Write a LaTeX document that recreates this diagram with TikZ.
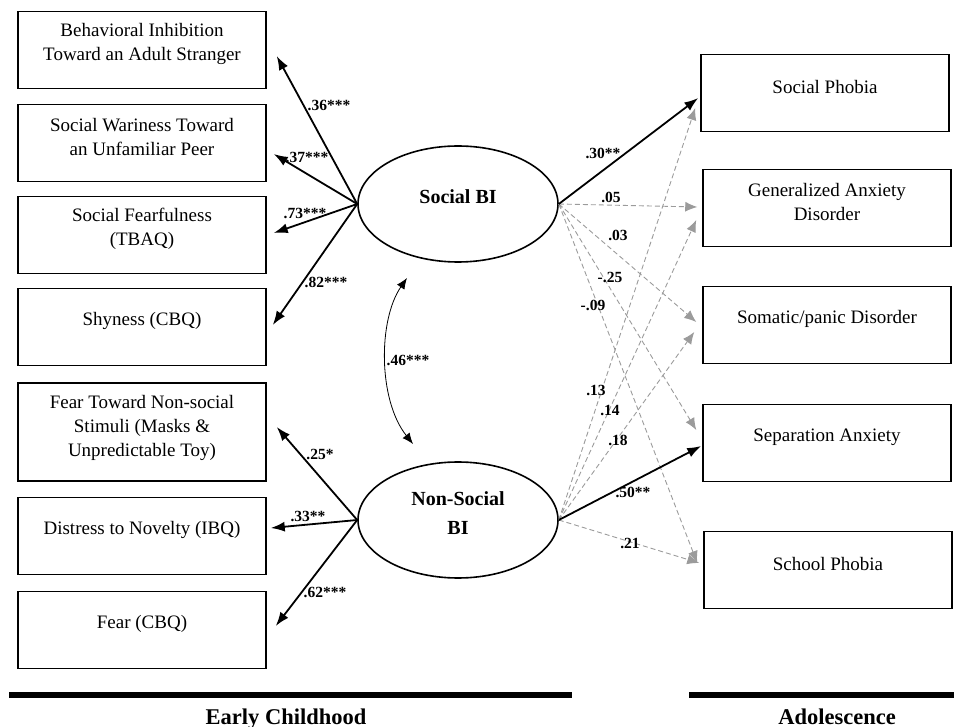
\documentclass[tikz,border=0pt]{standalone}
\usepackage{fontspec}
\setmainfont{Liberation Serif}
\usetikzlibrary{calc,arrows.meta,shapes.geometric}
\tikzset{>={Latex[length=14pt,width=10pt]}}
\definecolor{mygray}{RGB}{155,155,155}

\tikzset{
  measure/.style={draw, line width=1.5pt, minimum width=248pt, minimum height=77pt, inner sep=0pt},
  boxtext/.style={font=\fontsize{19}{24}\selectfont, align=center, yshift=6pt},
  latent/.style={draw, ellipse, line width=1.6pt, minimum width=200pt, minimum height=116pt, inner sep=0pt},
  latenttext/.style={font=\fontsize{20}{29}\selectfont\bfseries, align=center, yshift=7pt},
  sigpath/.style={->, line width=1.8pt},
  nspath/.style={-{Latex[length=12pt,width=10pt]}, mygray, dash pattern=on 5pt off 3pt, line width=0.9pt},
  coef/.style={font=\fontsize{15.5}{15.5}\selectfont\bfseries, inner sep=1pt},
  period/.style={font=\fontsize{22.5}{22.5}\selectfont\bfseries, anchor=base, inner sep=0pt},
}

\begin{document}
\begin{tikzpicture}[x=1pt, y=-1pt]
\useasboundingbox (0,0) rectangle (954,727);

% early childhood indicators
\node[measure, label={[boxtext]center:Behavioral Inhibition\\Toward an Adult Stranger}] (bi) at (142,50) {};
\node[measure, label={[boxtext]center:Social Wariness Toward\\an Unfamiliar Peer}] (sw) at (142,143) {};
\node[measure, label={[boxtext]center:Social Fearfulness\\(TBAQ)}] (sf) at (142,235) {};
\node[measure, label={[boxtext]center:Shyness (CBQ)}] (shy) at (142,327) {};
\node[measure, minimum height=98pt, label={[boxtext, yshift=-2pt]center:Fear Toward Non-social\\Stimuli (Masks \&\\Unpredictable Toy)}] (fns) at (142,432) {};
\node[measure, label={[boxtext]center:Distress to Novelty (IBQ)}] (dn) at (142,536) {};
\node[measure, label={[boxtext]center:Fear (CBQ)}] (fear) at (142,630) {};

% latent factors
\node[latent, label={[latenttext]center:Social BI}] (sbi) at (458,204) {};
\node[latent, label={[latenttext]center:Non-Social\\BI}] (nsbi) at (458,520) {};

% adolescent outcomes
\node[measure, label={[boxtext]center:Social Phobia}] (sp) at (825,93) {};
\node[measure, label={[boxtext]center:Generalized Anxiety\\Disorder}] (gad) at (827,208) {};
\node[measure, label={[boxtext]center:Somatic/panic Disorder}] (som) at (827,325) {};
\node[measure, label={[boxtext]center:Separation Anxiety}] (sep) at (827,443) {};
\node[measure, label={[boxtext]center:School Phobia}] (sch) at (828,570) {};

% loadings
\draw[sigpath] (sbi.west) -- ([shift={(10,6)}]bi.east);
\draw[sigpath] (sbi.west) -- ([shift={(7,11)}]sw.east);
\draw[sigpath] (sbi.west) -- ([shift={(7,-2)}]sf.east);
\draw[sigpath] (sbi.west) -- ([shift={(6,-2)}]shy.east);
\draw[sigpath] (nsbi.west) -- ([shift={(10,-5)}]fns.east);
\draw[sigpath] (nsbi.west) -- ([shift={(4,-8)}]dn.east);
\draw[sigpath] (nsbi.west) -- ([shift={(9,-4)}]fear.east);
\node[coef] (l36) at (329,105) {.36***};
\node[coef] (l37) at (307,157) {.37***};
\node[coef] (l73) at (305,213) {.73***};
\node[coef] (l82) at (326,282) {.82***};
\node[coef] (l25) at (320,454) {.25*};
\node[coef] (l33) at (308,516) {.33**};
\node[coef] (l62) at (325,592) {.62***};

% correlation
\coordinate (ctop) at (407,278);
\coordinate (cbot) at (413,444);
\draw[<->, line width=0.8pt, >={Latex[length=11pt,width=9pt]}] (ctop) .. controls (378,320) and (378,400) .. (cbot);
\node[coef] (l46) at (408,360) {.46***};

% paths to outcomes
\draw[nspath] (sbi.east) -- ([shift={(-5,-1)}]gad.west);
\draw[nspath] (sbi.east) -- ([shift={(-6,-3)}]som.west);
\draw[nspath] (sbi.east) -- ([shift={(-6,-13)}]sep.west);
\draw[nspath] (sbi.east) -- ([shift={(-6,-7)}]sch.west);
\draw[nspath] (nsbi.east) -- ([shift={(-5,15)}]sp.west);
\draw[nspath] (nsbi.east) -- ([shift={(-6,12)}]gad.west);
\draw[nspath] (nsbi.east) -- ([shift={(-8,7)}]som.west);
\draw[nspath] (nsbi.east) -- ([shift={(-4,-7)}]sch.west);
\draw[sigpath] (sbi.east) -- ([shift={(-2,5)}]sp.west);
\draw[sigpath] (nsbi.east) -- ([shift={(-1,3)}]sep.west);
\node[coef] (l30) at (603,153) {.30**};
\node[coef] (l05) at (611,197) {.05};
\node[coef] (l03) at (618,235) {.03};
\node[coef] (l25n) at (610,277) {-.25};
\node[coef] (l09) at (593,305) {-.09};
\node[coef] (l13) at (596,390) {.13};
\node[coef] (l14) at (610,410) {.14};
\node[coef] (l18) at (618,440) {.18};
\node[coef] (l50) at (633,492) {.50**};
\node[coef] (l21) at (630,543) {.21};

% time axis
\draw[line width=6pt] (9,695) -- (572,695);
\draw[line width=6pt] (689,695) -- (954,695);
\node[period] (ec) at (286,724) {Early Childhood};
\node[period] (ad) at (837,724) {Adolescence};
\end{tikzpicture}
\end{document}
